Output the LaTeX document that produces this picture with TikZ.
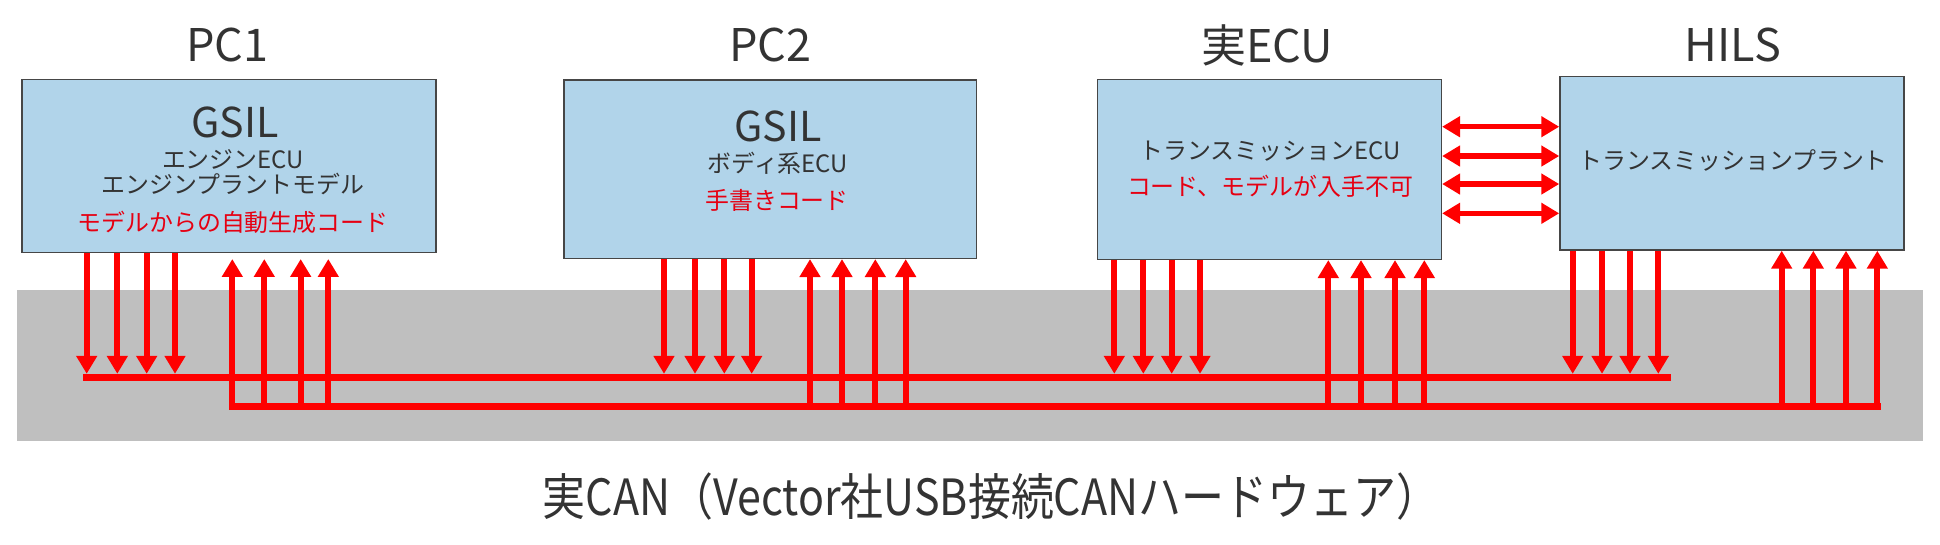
\documentclass[tikz,border=0pt]{standalone}
\usepackage{fontspec}
\setmainfont{Noto Sans CJK JP}
\usepackage{tikz}
\usetikzlibrary{arrows.meta}

\definecolor{boxblue}{RGB}{177,212,234}
\definecolor{boxline}{RGB}{70,70,70}
\definecolor{ink}{RGB}{51,51,51}
\definecolor{canbg}{RGB}{191,191,191}
\definecolor{noteRed}{RGB}{230,0,18}

\tikzset{
  unit/.style={draw=boxline, fill=boxblue, line width=0.4pt, inner sep=0pt},
  title/.style={anchor=base, text=ink, font=\fontsize{12.8}{14}\selectfont},
  gsil/.style={anchor=base, text=ink, font=\fontsize{11.7}{13}\selectfont},
  info/.style={anchor=base, text=ink, font=\fontsize{6.8}{8}\selectfont},
  note/.style={anchor=base, text=noteRed, font=\fontsize{6.8}{8}\selectfont},
  sig/.style={draw=red, line width=1.7pt, -{Triangle[length=5.1pt,width=5.7pt]}},
  sigboth/.style={draw=red, line width=1.5pt, {Triangle[length=5.1pt,width=5.7pt]}-{Triangle[length=5.1pt,width=5.7pt]}},
  bus/.style={draw=red, line width=1.9pt, line cap=rect}
}

\begin{document}
\begin{tikzpicture}[x=0.01cm, y=-0.01cm]
\useasboundingbox (0,0) rectangle (1940,544);
% CAN hardware
\fill[canbg] (16.7,290) rectangle (1922.7,441);
\node (can) [anchor=base, text=ink, font=\fontsize{14.2}{16}\selectfont, xscale=0.86, transform shape] at (991,515) {実CAN（Vector社USB接続CANハードウェア）};

% units
\node (pc1) [unit, minimum width=4.14cm, minimum height=1.73cm] at (229,165.8) {};
\node (pc2) [unit, minimum width=4.127cm, minimum height=1.783cm] at (770.3,169.2) {};
\node (ecu) [unit, minimum width=3.44cm, minimum height=1.80cm] at (1269.3,169.3) {};
\node (hils) [unit, minimum width=3.44cm, minimum height=1.733cm] at (1732,163.3) {};

\node (pc1 title) [title] at (227.5,61.5) {PC1};
\node (pc2 title) [title] at (770.5,61.5) {PC2};
\node (ecu title) [title] at (1267,62) {実ECU};
\node (hils title) [title] at (1733,61.5) {HILS};

\node (pc1 gsil) [gsil] at (235,137.3) {GSIL};
\node (pc1 ecu) [info] at (233,168.3) {エンジンECU};
\node (pc1 model) [info] at (233,193.5) {エンジンプラントモデル};
\node (pc1 code) [note] at (233,231.5) {モデルからの自動生成コード};

\node (pc2 gsil) [gsil] at (778,141.7) {GSIL};
\node (pc2 ecu) [info] at (778,172.7) {ボディ系ECU};
\node (pc2 code) [note] at (777,209) {手書きコード};

\node (ecu name) [info] at (1270,159.3) {トランスミッションECU};
\node (ecu code) [note] at (1270,195) {コード、モデルが入手不可};

\node (hils name) [info] at (1733,169) {トランスミッションプラント};

% buses
\coordinate (busa west) at (86.7,377.3);
\coordinate (busa east) at (1668,377.3);
\coordinate (busb west) at (232.3,406.7);
\coordinate (busb east) at (1877.3,406.7);
\draw[bus] (busa west) -- (busa east);
\draw[bus] (busb west) -- (busb east);

% tx arrows
\foreach \x in {86.7,117.3,146.7,175}
  \draw[sig, shorten >=1pt] (\x,0 |- pc1.south) -- (\x,0 |- busa west);
\foreach \x in {664,695,724.3,751.7}
  \draw[sig, shorten >=1pt] (\x,0 |- pc2.south) -- (\x,0 |- busa west);
\foreach \x in {1114.3,1143.3,1171.7,1200}
  \draw[sig, shorten >=1pt] (\x,0 |- ecu.south) -- (\x,0 |- busa west);
\foreach \x in {1572.7,1602,1630,1658.3}
  \draw[sig, shorten >=1pt] (\x,0 |- hils.south) -- (\x,0 |- busa west);

% rx arrows
\foreach \x in {232.3,264.3,300.7,328.3}
  \draw[sig, shorten >=1.7pt] (\x,0 |- busb west) -- (\x,0 |- pc1.south);
\foreach \x in {810,842,875.3,905.7}
  \draw[sig] (\x,0 |- busb west) -- (\x,0 |- pc2.south);
\foreach \x in {1328.3,1361,1395,1424.3}
  \draw[sig] (\x,0 |- busb west) -- (\x,0 |- ecu.south);
\foreach \x in {1781.7,1813.3,1846,1877.3}
  \draw[sig] (\x,0 |- busb west) -- (\x,0 |- hils.south);

% ECU <-> HILS
\foreach \y in {126.7,156,184,213.3}
  \draw[sigboth] (ecu.east |- 0,\y) -- (hils.west |- 0,\y);
\end{tikzpicture}
\end{document}
